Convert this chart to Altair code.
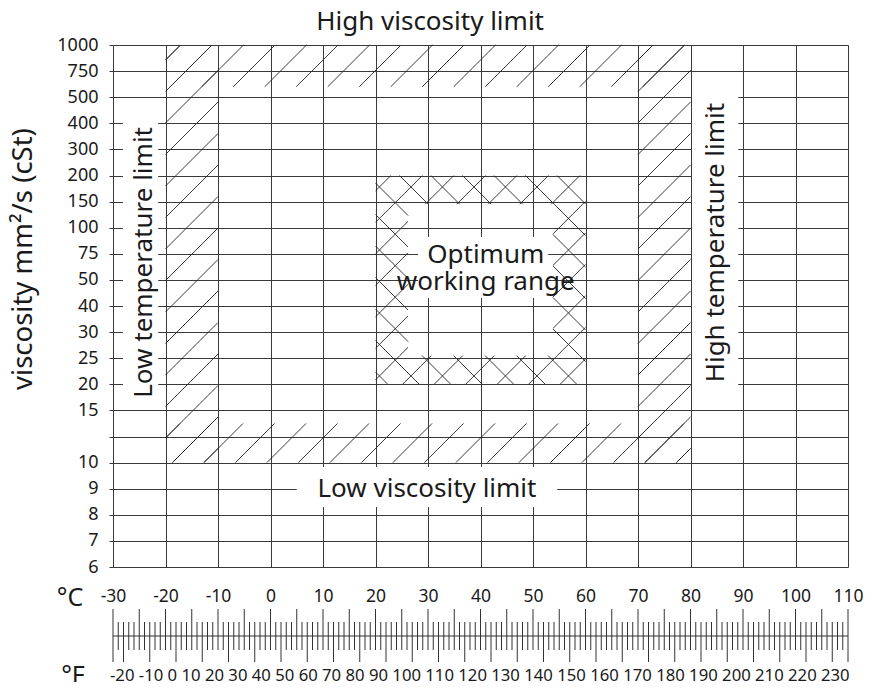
import altair as alt
import numpy as np
import pandas as pd

# ---------------- data ----------------
# viscosity rows, top to bottom, drawn on equally spaced lines (one unlabeled line between 15 and 10)
visc_rows = ["1000", "750", "500", "400", "300", "200", "150", "100", "75", "50", "40",
             "30", "25", "20", "15", "", "10", "9", "8", "7", "6"]
temp_c = list(range(-30, 111, 10))
temp_f_labels = [-20, -10, 0, 10, 20, 30, 40, 50, 60, 70, 80, 90, 100, 110, 120, 130,
                 140, 150, 160, 170, 180, 190, 200, 210, 220, 230]

# hatched limit bands: (°C from, °C to, row from, row to)
limit_bands = [(-20, 80, 0, 1.6), (-20, -10, 0, 16), (70, 80, 0, 16), (-20, 80, 14.5, 16)]
# optimum working range ring (outer / inner rectangle)
opt_outer = (20, 60, 5, 13)
opt_inner = (26.2, 53.8, 6.1, 11.9)

# ruler ticks (°C above the line, °F below, as drawn on the °C scale)
c_minor = list(range(-30, 111))
c_major = list(range(-30, 111, 5))
f_minor_pos = list(range(-29, 110))
f_major_pos = list(range(-28, 110, 5))

# ---------------- layout ----------------
W, H = 735, 522
XMIN, XMAX, YMAX = -30, 110, 20
PX_X = W / (XMAX - XMIN)
PX_Y = H / YMAX
FONT = "Noto Sans"
INK = "#1a1a1a"
GRID = "#3a3a3a"


def hatch(rects, direction, spacing, phase):
    segs = []
    for (x0, x1, y0, y1) in rects:
        X0, X1 = (x0 - XMIN) * PX_X, (x1 - XMIN) * PX_X
        Y0, Y1 = y0 * PX_Y, y1 * PX_Y
        if direction == 1:
            cmin, cmax = X0 + Y0, X1 + Y1
        else:
            cmin, cmax = X0 - Y1, X1 - Y0
        k0 = int(np.ceil((cmin - phase) / spacing))
        k1 = int(np.floor((cmax - phase) / spacing))
        for k in range(k0, k1 + 1):
            c = phase + k * spacing
            if direction == 1:
                ya, yb = c - X1, c - X0
            else:
                ya, yb = X0 - c, X1 - c
            lo, hi = max(Y0, ya), min(Y1, yb)
            if hi - lo < 0.8:
                continue
            if direction == 1:
                xa, xb = c - lo, c - hi
            else:
                xa, xb = c + lo, c + hi
            segs.append((xa / PX_X + XMIN, xb / PX_X + XMIN, lo / PX_Y, hi / PX_Y))
    return segs


ox0, ox1, oy0, oy1 = opt_outer
ix0, ix1, iy0, iy1 = opt_inner
ring = [(ox0, ox1, oy0, iy0), (ox0, ox1, iy1, oy1), (ox0, ix0, iy0, iy1), (ix1, ox1, iy0, iy1)]

segs = hatch(limit_bands, 1, 31.5, 162.0)
segs += hatch(ring, 1, 31.5, 471.4) + hatch(ring, -1, 31.5, 156.0)
hatch_df = pd.DataFrame(segs, columns=["x", "x2", "y", "y2"])

xs = alt.Scale(domain=[XMIN, XMAX], nice=False, zero=False)
ys = alt.Scale(domain=[0, YMAX], reverse=True, nice=False, zero=False)
label_arr = "[" + ",".join("'%s'" % v for v in visc_rows) + "]"
x_axis = alt.Axis(values=temp_c, grid=True, gridColor=GRID, gridOpacity=1, gridWidth=1,
                  ticks=False, tickSize=0, domain=False, labelPadding=29,
                  labelBaseline="middle", labelFlush=False, labelOverlap=False,
                  labelFontSize=17.5, labelColor=INK, labelFont=FONT,
                  labelExpr="toString(datum.value)", title=None)
y_axis = alt.Axis(values=list(range(0, YMAX + 1)), grid=True, gridColor=GRID, gridOpacity=1,
                  gridWidth=1, ticks=True, tickSize=4, tickColor=GRID, domain=False,
                  labelPadding=11, labelOverlap=False, labelFontSize=18, labelColor=INK,
                  labelFont=FONT, labelExpr=label_arr + "[datum.value]", title=None)

X = lambda f: alt.X(f, type="quantitative", scale=xs, axis=x_axis)
Y = lambda f: alt.Y(f, type="quantitative", scale=ys, axis=y_axis)

hatch_layer = alt.Chart(hatch_df).mark_rule(color="#222", strokeWidth=0.9).encode(
    x=X("x"), x2="x2", y=Y("y"), y2="y2")

# white boxes behind the annotation texts
boxes_df = pd.DataFrame({
    "x": [-28.1, 80.3, 5.0, 28.1],
    "x2": [-21.4, 89.1, 54.6, 52.9],
    "y": [2.5, 1.8, 16.17, 7.36],
    "y2": [13.7, 13.4, 17.7, 9.69],
})
boxes = alt.Chart(boxes_df).mark_rect(fill="white").encode(
    x=X("x"), x2="x2", y=Y("y"), y2="y2")

h_text_df = pd.DataFrame({
    "t": ["High viscosity limit", "Low viscosity limit", "Optimum\nworking range"],
    "x": [30.4, 29.8, 41.0],
    "y": [-0.9, 17.0, 8.05],
})
h_text = alt.Chart(h_text_df).mark_text(fontSize=26, font=FONT, color=INK, baseline="middle",
                                        align="center", lineBreak="\n", lineHeight=27).encode(
    x=X("x"), y=Y("y"), text="t:N")

v_text_df = pd.DataFrame({
    "t": ["Low temperature limit", "High temperature limit"],
    "x": [-24.1, 84.9],
    "y": [8.33, 7.57],
})
v_text = alt.Chart(v_text_df).mark_text(fontSize=26, font=FONT, color=INK, baseline="middle",
                                        align="center", angle=270).encode(
    x=X("x"), y=Y("y"), text="t:N")

ytitle = alt.Chart(pd.DataFrame({"t": ["viscosity mm²/s (cSt)"], "y": [8.2]})).mark_text(
    fontSize=27.5, font=FONT, color=INK, baseline="middle", align="center", angle=270).encode(
    x=alt.value(-89), y=Y("y"), text="t:N")

# ruler
ruler_line = alt.Chart(pd.DataFrame({"x": [XMIN], "x2": [XMAX]})).mark_rule(
    color="#333", strokeWidth=1).encode(x=X("x"), x2="x2", y=alt.value(591))
c_min_df = pd.DataFrame({"x": [v for v in c_minor if v not in c_major]})
c_maj_df = pd.DataFrame({"x": [v for v in c_major if v not in (XMIN, XMAX)]})
f_min_df = pd.DataFrame({"x": [v for v in f_minor_pos if v not in f_major_pos]})
f_maj_df = pd.DataFrame({"x": f_major_pos})
ends_df = pd.DataFrame({"x": [XMIN, XMAX]})
tick = dict(color="#333", strokeWidth=1)
c_min_l = alt.Chart(c_min_df).mark_rule(**tick).encode(x=X("x"), y=alt.value(577), y2=alt.value(591))
c_maj_l = alt.Chart(c_maj_df).mark_rule(**tick).encode(x=X("x"), y=alt.value(564), y2=alt.value(591))
f_min_l = alt.Chart(f_min_df).mark_rule(**tick).encode(x=X("x"), y=alt.value(591), y2=alt.value(605))
f_maj_l = alt.Chart(f_maj_df).mark_rule(**tick).encode(x=X("x"), y=alt.value(591), y2=alt.value(617))
ends_l = alt.Chart(ends_df).mark_rule(**tick).encode(x=X("x"), y=alt.value(564), y2=alt.value(617))

f_text = alt.Chart(pd.DataFrame({"t": [" ".join(str(v) for v in temp_f_labels)], "x": [XMIN]})).mark_text(
    fontSize=16.7, font=FONT, color=INK, align="left", baseline="middle", dx=-3).encode(
    x=X("x"), y=alt.value(631), text="t:N")

unit_c = alt.Chart(pd.DataFrame({"t": ["°C"]})).mark_text(
    fontSize=25, font=FONT, color=INK, align="center", baseline="middle").encode(
    x=alt.value(-43), y=alt.value(553), text="t:N")
unit_f = alt.Chart(pd.DataFrame({"t": ["°F"]})).mark_text(
    fontSize=25, font=FONT, color=INK, align="center", baseline="middle").encode(
    x=alt.value(-40), y=alt.value(631), text="t:N")

chart = alt.layer(
    hatch_layer, boxes, h_text, v_text, ytitle,
    ruler_line, c_min_l, c_maj_l, f_min_l, f_maj_l, ends_l, f_text, unit_c, unit_f,
).properties(
    width=W, height=H,
    autosize=alt.AutoSizeParams(type="none"),
    padding={"left": 105, "top": 37, "right": 17, "bottom": 115},
).configure_view(stroke="#666", strokeWidth=1.5).configure(background="white")

chart.save("out.html", embed_options={"renderer": "svg", "actions": False})
